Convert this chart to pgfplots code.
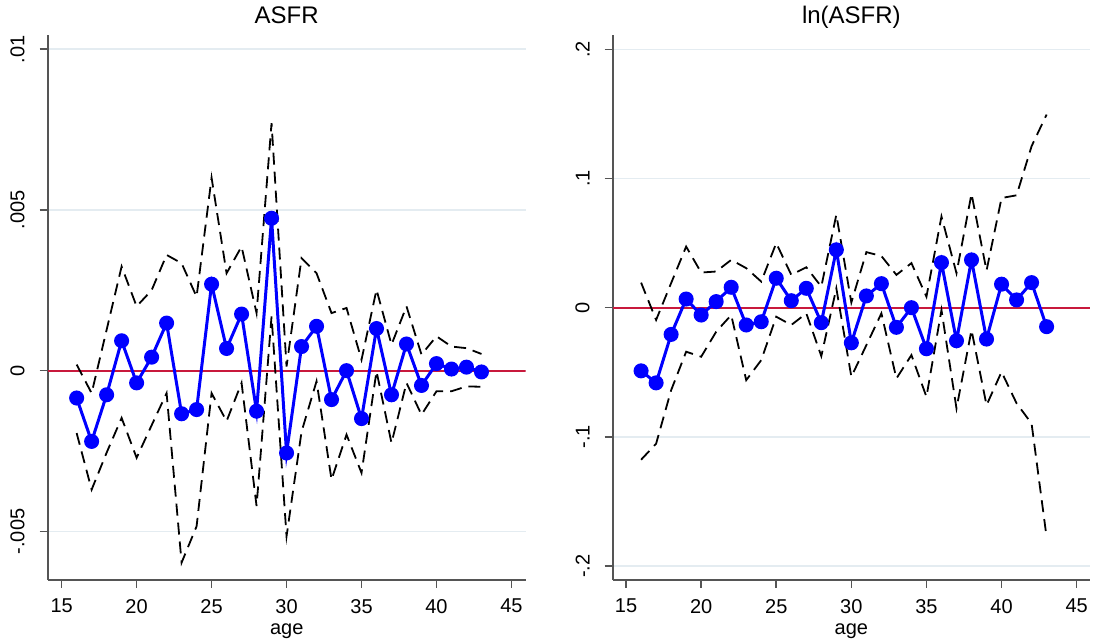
\documentclass[border=0pt]{standalone}
\usepackage{fontspec}
\setmainfont{Liberation Sans}
\usepackage{pgfplots}
\pgfplotsset{compat=1.18}

\definecolor{gridc}{RGB}{228,236,241}
\definecolor{cranb}{RGB}{200,25,60}
\definecolor{axgray}{RGB}{85,85,85}

% age, estimate, upper and lower bound
\pgfplotstableread{
age est up lo
16 -0.00085 0.00019 -0.00194
17 -0.00220 -0.00070 -0.00370
18 -0.00075 0.00127 -0.00255
19 0.00093 0.00324 -0.00147
20 -0.00038 0.00200 -0.00271
21 0.00042 0.00250 -0.00170
22 0.00148 0.00360 -0.00070
23 -0.00134 0.00334 -0.00597
24 -0.00121 0.00230 -0.00484
25 0.00269 0.00600 -0.00070
26 0.00069 0.00303 -0.00157
27 0.00176 0.00386 -0.00038
28 -0.00126 0.00179 -0.00421
29 0.00474 0.00770 0.00169
30 -0.00256 0.00013 -0.00515
31 0.00075 0.00350 -0.00190
32 0.00138 0.00303 -0.00033
33 -0.00090 0.00179 -0.00339
34 0.00000 0.00195 -0.00199
35 -0.00149 0.00034 -0.00318
36 0.00131 0.00252 -0.00002
37 -0.00075 0.00081 -0.00225
38 0.00083 0.00200 -0.00038
39 -0.00046 0.00050 -0.00137
40 0.00022 0.00107 -0.00064
41 0.00005 0.00075 -0.00064
42 0.00011 0.00070 -0.00049
43 -0.00004 0.00052 -0.00050
}\asfr

\pgfplotstableread{
age est up lo
16 -0.0489 0.0194 -0.1177
17 -0.0582 -0.0095 -0.1053
18 -0.0207 0.0190 -0.0639
19 0.0067 0.0473 -0.0341
20 -0.0057 0.0272 -0.0380
21 0.0047 0.0280 -0.0186
22 0.0158 0.0370 -0.0057
23 -0.0134 0.0306 -0.0561
24 -0.0109 0.0202 -0.0406
25 0.0228 0.0500 -0.0070
26 0.0054 0.0254 -0.0134
27 0.0150 0.0313 -0.0044
28 -0.0116 0.0163 -0.0375
29 0.0448 0.0720 0.0150
30 -0.0272 0.0040 -0.0535
31 0.0091 0.0430 -0.0290
32 0.0186 0.0400 -0.0044
33 -0.0152 0.0254 -0.0548
34 0.0000 0.0345 -0.0367
35 -0.0318 0.0085 -0.0690
36 0.0349 0.0706 -0.0018
37 -0.0256 0.0267 -0.0780
38 0.0370 0.0882 -0.0173
39 -0.0243 0.0287 -0.0755
40 0.0182 0.0849 -0.0497
41 0.0060 0.0870 -0.0740
42 0.0194 0.1250 -0.0897
43 -0.0147 0.1495 -0.1777
}\lnasfr

\pgfplotsset{
  panel/.style={
    scale only axis,
    height=272.5pt,
    axis x line=bottom,
    axis y line=left,
    axis line style={-, axgray, line width=1pt},
    tick style={axgray, line width=0.8pt},
    tick align=outside,
    major tick length=4pt,
    xtick={15,20,...,45},
    ticklabel style={font=\fontsize{10}{12}\selectfont},
    /pgf/number format/assume math mode=true,
    yticklabel style={rotate=90, anchor=south},
    yticklabel shift=4pt,
    xticklabel shift=2pt,
    scaled y ticks=false,
    ymajorgrids,
    grid style={gridc, line width=0.8pt},
    xlabel={age},
    xlabel style={font=\fontsize{10}{12}\selectfont, yshift=1.5pt},
    title style={font=\fontsize{12}{14}\selectfont, text depth=0.25ex, yshift=-5pt},
    clip=true,
  },
  ci/.style={black, line width=0.9pt, dash pattern=on 6pt off 3.5pt},
  pt/.style={blue, line width=1.5pt, mark=*, mark size=3pt, mark options={solid, fill=blue}},
}

\begin{document}
\begin{tikzpicture}
\useasboundingbox (0,0) rectangle (546.5pt,320pt);

\begin{axis}[panel,
  at={(23.85pt,30pt)}, anchor=south west,
  width=239pt,
  xmin=14.07, xmax=45.95,
  ymin=-0.00651, ymax=0.01044,
  ytick={-0.005,0,0.005,0.01},
  yticklabels={-.005,0,.005,.01},
  title={ASFR},
]
\addplot[cranb, line width=1pt] coordinates {(14.07,0) (45.95,0)};
\addplot[ci] table[x=age, y=up] {\asfr};
\addplot[ci] table[x=age, y=lo] {\asfr};
\addplot[pt] table[x=age, y=est] {\asfr};
\end{axis}

\begin{axis}[panel,
  at={(306.35pt,30pt)}, anchor=south west,
  width=238.65pt,
  xmin=14.11, xmax=45.89,
  ymin=-0.2108, ymax=0.2111,
  ytick={-0.2,-0.1,0,0.1,0.2},
  yticklabels={-.2,-.1,0,.1,.2},
  title={ln(ASFR)},
]
\addplot[cranb, line width=1pt] coordinates {(14.11,0) (45.89,0)};
\addplot[ci] table[x=age, y=up] {\lnasfr};
\addplot[ci] table[x=age, y=lo] {\lnasfr};
\addplot[pt] table[x=age, y=est] {\lnasfr};
\end{axis}
\end{tikzpicture}
\end{document}
